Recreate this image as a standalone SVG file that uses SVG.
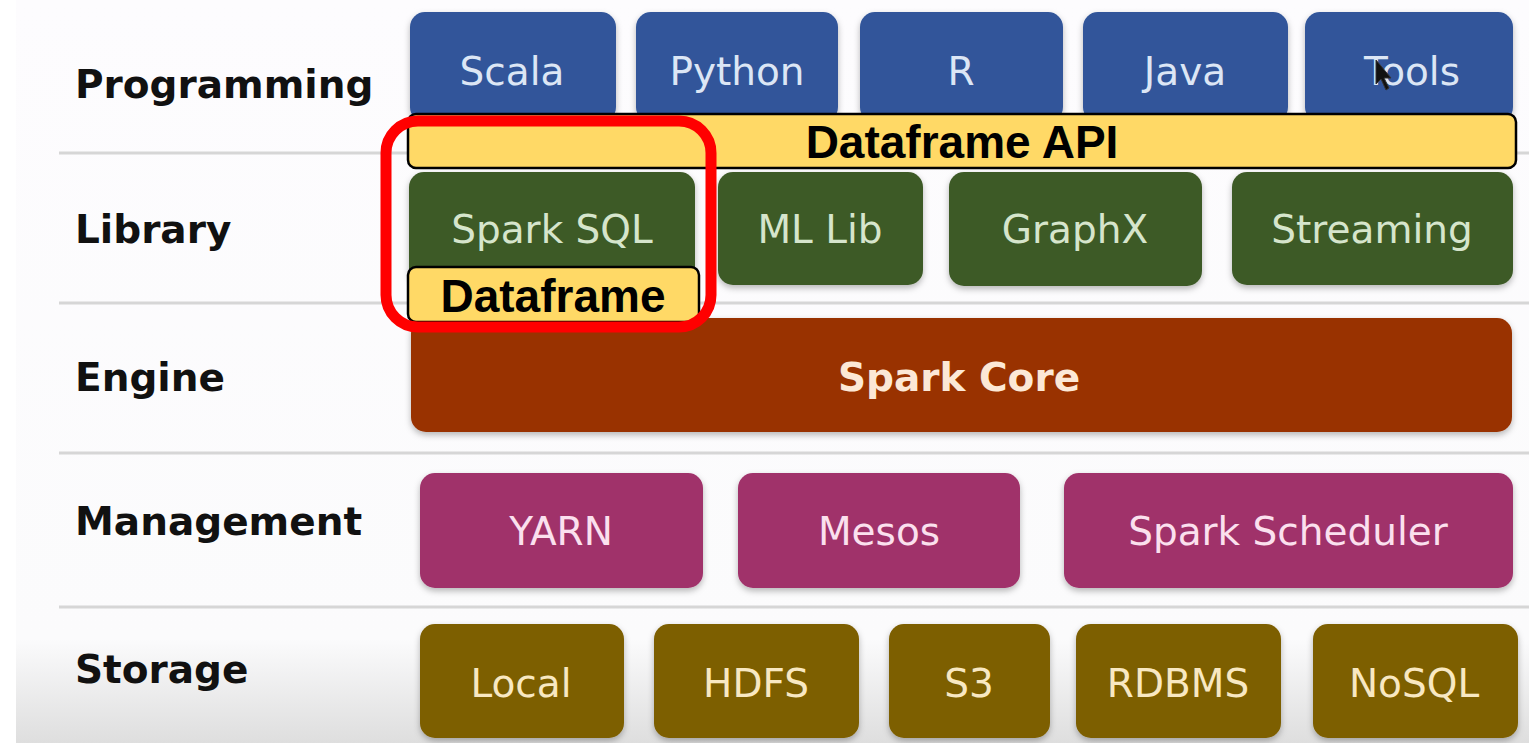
<svg xmlns="http://www.w3.org/2000/svg" width="1529" height="743" viewBox="0 0 1529 743">
  <defs>
    <linearGradient id="bg" x1="0" y1="0" x2="0" y2="1">
      <stop offset="0" stop-color="#fdfcfe"/>
      <stop offset="0.86" stop-color="#fbfbfc"/>
      <stop offset="1" stop-color="#dedede"/>
    </linearGradient>
    <filter id="sh" x="-5%" y="-10%" width="110%" height="130%">
      <feDropShadow dx="0" dy="3" stdDeviation="3" flood-color="#000" flood-opacity="0.28"/>
    </filter>
    <style>
      .lbl { font-family: "DejaVu Sans", "Liberation Sans", sans-serif; font-weight: bold; font-size: 39px; fill: #111; }
      .bt { font-family: "DejaVu Sans", "Liberation Sans", sans-serif; font-size: 39px; text-anchor: middle; }
      .sep { stroke: #d6d6d6; stroke-width: 3; }
      .blue rect { fill: #30559a; }
      .blue text { fill: #dce6f5; }
      .green rect { fill: #3e5a28; }
      .green text { fill: #d6e5cc; }
      .core rect { fill: #993300; }
      .core text { fill: #fce8d6; font-weight: bold; }
      .mgmt rect { fill: #a0316a; }
      .mgmt text { fill: #fbe0ee; }
      .stor rect { fill: #7d5e02; }
      .stor text { fill: #f8e8c2; }
      .yel { fill: #ffd966; stroke: #000; stroke-width: 2.5; }
      .yt { font-family: "Liberation Sans", Arial, sans-serif; font-weight: bold; font-size: 46px; fill: #000; text-anchor: middle; }
    </style>
  </defs>

  <rect x="0" y="0" width="1529" height="743" fill="#ffffff"/>
  <rect x="16" y="0" width="1513" height="743" fill="url(#bg)"/>

  <g id="separators">
    <line class="sep" x1="59" y1="153" x2="1529" y2="153"/>
    <line class="sep" x1="59" y1="303" x2="1529" y2="303"/>
    <line class="sep" x1="59" y1="453" x2="1529" y2="453"/>
    <line class="sep" x1="59" y1="607" x2="1529" y2="607"/>
  </g>

  <g id="labels">
    <text class="lbl" x="75" y="98">Programming</text>
    <text class="lbl" x="75" y="243">Library</text>
    <text class="lbl" x="75" y="391">Engine</text>
    <text class="lbl" x="75" y="535">Management</text>
    <text class="lbl" x="75" y="683">Storage</text>
  </g>

  <g id="programming" class="blue">
    <g id="scala"><rect x="410" y="12" width="206" height="110" rx="15" filter="url(#sh)"/><text class="bt" x="512" y="85">Scala</text></g>
    <g id="python"><rect x="636" y="12" width="202" height="110" rx="15" filter="url(#sh)"/><text class="bt" x="737" y="85">Python</text></g>
    <g id="r"><rect x="860" y="12" width="203" height="110" rx="15" filter="url(#sh)"/><text class="bt" x="961" y="85">R</text></g>
    <g id="java"><rect x="1083" y="12" width="205" height="110" rx="15" filter="url(#sh)"/><text class="bt" x="1185" y="85">Java</text></g>
    <g id="tools"><rect x="1305" y="12" width="208" height="110" rx="15" filter="url(#sh)"/><text class="bt" x="1412" y="85">Tools</text></g>
  </g>

  <g id="library" class="green">
    <g id="sparksql"><rect x="409" y="172" width="286" height="113" rx="15" filter="url(#sh)"/><text class="bt" x="552" y="243">Spark SQL</text></g>
    <g id="mllib"><rect x="718" y="172" width="205" height="113" rx="15" filter="url(#sh)"/><text class="bt" x="820" y="243">ML Lib</text></g>
    <g id="graphx"><rect x="949" y="172" width="253" height="114" rx="15" filter="url(#sh)"/><text class="bt" x="1075" y="243">GraphX</text></g>
    <g id="streaming"><rect x="1232" y="172" width="281" height="113" rx="15" filter="url(#sh)"/><text class="bt" x="1372" y="243">Streaming</text></g>
  </g>

  <g id="engine" class="core">
    <rect x="411" y="318" width="1101" height="114" rx="15" filter="url(#sh)"/>
    <text class="bt" x="959" y="391">Spark Core</text>
  </g>

  <g id="management" class="mgmt">
    <g id="yarn"><rect x="420" y="473" width="283" height="115" rx="15" filter="url(#sh)"/><text class="bt" x="561" y="545">YARN</text></g>
    <g id="mesos"><rect x="738" y="473" width="282" height="115" rx="15" filter="url(#sh)"/><text class="bt" x="879" y="545">Mesos</text></g>
    <g id="scheduler"><rect x="1064" y="473" width="449" height="115" rx="15" filter="url(#sh)"/><text class="bt" x="1288" y="545">Spark Scheduler</text></g>
  </g>

  <g id="storage" class="stor">
    <g id="local"><rect x="420" y="624" width="204" height="114" rx="15" filter="url(#sh)"/><text class="bt" x="521" y="697">Local</text></g>
    <g id="hdfs"><rect x="654" y="624" width="205" height="114" rx="15" filter="url(#sh)"/><text class="bt" x="756" y="697">HDFS</text></g>
    <g id="s3"><rect x="889" y="624" width="161" height="114" rx="15" filter="url(#sh)"/><text class="bt" x="969" y="697">S3</text></g>
    <g id="rdbms"><rect x="1076" y="624" width="205" height="114" rx="15" filter="url(#sh)"/><text class="bt" x="1178" y="697">RDBMS</text></g>
    <g id="nosql"><rect x="1313" y="624" width="205" height="114" rx="15" filter="url(#sh)"/><text class="bt" x="1414" y="697">NoSQL</text></g>
  </g>

  <g id="dataframe-api">
    <rect class="yel" x="408" y="114" width="1108" height="54" rx="8"/>
    <text class="yt" x="962" y="158">Dataframe API</text>
  </g>

  <g id="dataframe">
    <rect class="yel" x="408" y="267" width="291" height="55" rx="8"/>
    <text class="yt" x="553" y="312">Dataframe</text>
  </g>

  <g id="highlight">
    <rect x="386" y="121" width="325" height="206" rx="32" fill="none" stroke="#ff0000" stroke-width="11"/>
  </g>

  <g id="cursor">
    <path d="M1376 60 L1376 84 L1381 79 L1386 90 L1389 88 L1384 78 L1391 78 Z" fill="#111" stroke="#333" stroke-width="1"/>
  </g>
</svg>
